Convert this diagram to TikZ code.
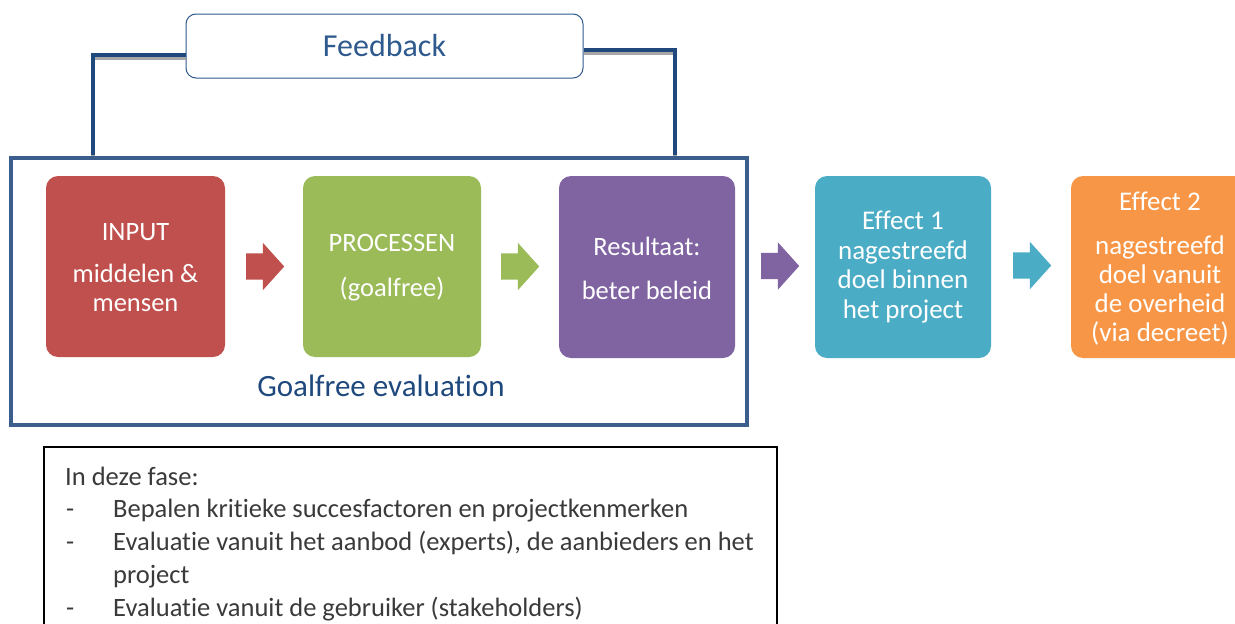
\documentclass[tikz,border=0pt]{standalone}
\usepackage{fontspec}
\setmainfont{Carlito}[Ligatures={NoCommon}]
\usetikzlibrary{shapes.arrows}
\definecolor{fbblue}{HTML}{2F5A8E}
\definecolor{lineblue}{HTML}{1F497D}
\definecolor{frameblue}{HTML}{3B5E8C}
\definecolor{cred}{HTML}{C0504D}
\definecolor{cgreen}{HTML}{9BBB59}
\definecolor{cpurple}{HTML}{8064A2}
\definecolor{cteal}{HTML}{4BACC6}
\definecolor{corange}{HTML}{F79646}
\definecolor{txtgray}{HTML}{3A3A3A}
\tikzset{
  stepbox/.style={rounded corners=12pt, draw=none},
  boxtext/.style={text=white, align=center, inner sep=0pt},
  blockarrow/.style={single arrow, draw=none, minimum height=38pt, anchor=tail,
     single arrow head extend=10.5pt, single arrow tip angle=96, inner xsep=0pt, inner ysep=13pt},
  fbline/.style={line width=4pt, lineblue},
  fbshadow/.style={line width=4pt, gray!70},
}
\begin{document}
\begin{tikzpicture}[x=1pt,y=-1pt]
\clip (0,0) rectangle (1235,624);
\fill[white] (0,0) rectangle (1235,624);

% Feedback box
\node[draw=fbblue, line width=1pt, rounded corners=10pt, minimum width=397pt, minimum height=64pt,
  text=fbblue, font=\fontsize{32}{38}\selectfont] (fb) at (384.5,46) {Feedback};

% connectors
\coordinate (la) at (93,155);
\coordinate (lc) at (93,55);
\coordinate (ra) at (675,155);
\coordinate (rc) at (675,50);
\draw[fbshadow] ([yshift=-3pt]la) -- ([yshift=-3pt]lc) -- ([yshift=-3pt]lc -| fb.west);
\draw[fbshadow] ([yshift=-3pt]rc -| fb.east) -- ([yshift=-3pt]rc) -- ([yshift=-3pt]ra);
\draw[fbline] (la) -- (lc) -- (lc -| fb.west);
\draw[fbline] (rc -| fb.east) -- (rc) -- (ra);

% frame
\draw[frameblue, line width=4pt] (11,158) rectangle (747,425);
\node[text=lineblue, font=\fontsize{31}{36}\selectfont] (gf) at (381,386) {Goalfree evaluation};

% boxes
\fill[cred, stepbox] (46,176) rectangle (225,357);
\node[boxtext, font=\fontsize{26.5}{29}\selectfont] (in) at (135.5,268) {INPUT\\[13pt]middelen \&\\mensen};
\fill[cgreen, stepbox] (303,176) rectangle (481,357);
\node[boxtext, font=\fontsize{26.5}{45}\selectfont] (pr) at (392,268) {PROCESSEN\\(goalfree)};
\fill[cpurple, stepbox] (559,176) rectangle (735,358);
\node[boxtext, font=\fontsize{26.5}{44}\selectfont] (re) at (647,268) {Resultaat:\\beter beleid};
\fill[cteal, stepbox] (815,176) rectangle (991,358);
\node[boxtext, font=\fontsize{27}{29.7}\selectfont] (e1) at (903,267) {Effect 1\\nagestreefd\\doel binnen\\het project};
\fill[corange, stepbox] (1071,176) rectangle (1250,358);
\node[boxtext, font=\fontsize{27}{29.3}\selectfont] (e2) at (1160,269) {Effect 2\\[14pt]nagestreefd\\doel vanuit\\de overheid\\(via decreet)};

% block arrows
\node[blockarrow, fill=cred] (a1) at (246,266.5) {};
\node[blockarrow, fill=cgreen] (a2) at (501,266.5) {};
\node[blockarrow, fill=cpurple] (a3) at (761,266) {};
\node[blockarrow, fill=cteal] (a4) at (1013,265.5) {};

% text box
\draw[black, line width=1.2pt] (44,640) -- (44,447) -- (777,447) -- (777,640);
\begin{scope}[text=txtgray, font=\fontsize{26.5}{30}\selectfont]
\node[anchor=base west, inner sep=0pt] (t0) at (65,485) {In deze fase:};
\node[anchor=base west, inner sep=0pt] (d1) at (66,517) {-};
\node[anchor=base west, inner sep=0pt] (t1) at (113,517) {Bepalen kritieke succesfactoren en projectkenmerken};
\node[anchor=base west, inner sep=0pt] (d2) at (66,550) {-};
\node[anchor=base west, inner sep=0pt] (t2) at (113,550) {Evaluatie vanuit het aanbod (experts), de aanbieders en het};
\node[anchor=base west, inner sep=0pt] (t3) at (113,583) {project};
\node[anchor=base west, inner sep=0pt] (d4) at (66,616) {-};
\node[anchor=base west, inner sep=0pt] (t4) at (113,616) {Evaluatie vanuit de gebruiker (stakeholders)};
\end{scope}
\end{tikzpicture}
\end{document}
